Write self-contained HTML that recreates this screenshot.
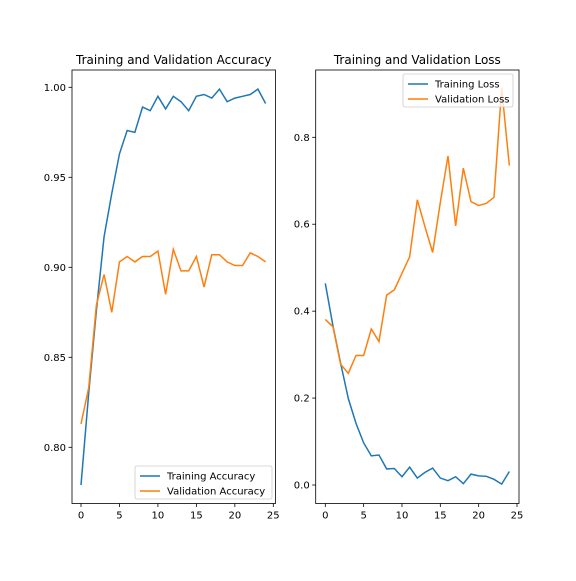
<!DOCTYPE html>
<html><head><meta charset="utf-8"><style>
body{margin:0;background:#fff;}
svg{font-family:"DejaVu Sans","Liberation Sans",sans-serif;}
</style></head><body>
<svg id="c" width="576" height="576" viewBox="0 0 576 576"></svg>
<script>
const epochs=[0,1,2,3,4,5,6,7,8,9,10,11,12,13,14,15,16,17,18,19,20,21,22,23,24];
const trainAcc=[0.779,0.83,0.876,0.917,0.941,0.963,0.976,0.975,0.989,0.987,0.995,0.988,0.995,0.992,0.987,0.995,0.996,0.994,0.999,0.992,0.994,0.995,0.996,0.999,0.991];
const valAcc=[0.813,0.833,0.879,0.896,0.875,0.903,0.906,0.903,0.906,0.906,0.909,0.885,0.910,0.898,0.898,0.906,0.889,0.907,0.907,0.903,0.901,0.901,0.908,0.906,0.903];
const trainLoss=[0.464,0.366,0.28,0.199,0.142,0.097,0.067,0.069,0.037,0.038,0.019,0.041,0.016,0.029,0.039,0.016,0.010,0.019,0.003,0.025,0.021,0.020,0.013,0.002,0.031];
const valLoss=[0.381,0.364,0.278,0.257,0.298,0.298,0.359,0.330,0.437,0.449,0.487,0.525,0.656,0.594,0.535,0.650,0.757,0.596,0.729,0.652,0.643,0.648,0.662,0.913,0.735];
const xTicks=[0,5,10,15,20,25];
const accTicks=[0.80,0.85,0.90,0.95,1.00];
const lossTicks=[0.0,0.2,0.4,0.6,0.8];
const svg=document.getElementById('c');
const NS='http://www.w3.org/2000/svg';
function mk(t,a,p){const e=document.createElementNS(NS,t);for(const k in a)e.setAttribute(k,a[k]);(p||svg).appendChild(e);return e;}
function panel(cfg){
  const g=mk('g',{});
  
  
  const X=v=>cfg.x0+(v-0)*(cfg.x25-cfg.x0)/25;
  const Y=v=>cfg.yA+(v-cfg.vA)*(cfg.yB-cfg.yA)/(cfg.vB-cfg.vA);
  xTicks.forEach(t=>{
    const l=mk('line',{x1:X(t),x2:X(t),y1:cfg.b,y2:cfg.b+3.5,stroke:'#000','stroke-width':0.8},g);
    
    const tx=mk('text',{x:X(t),y:cfg.b+15,'font-size':10,'text-anchor':'middle',fill:'#000'},g);
    tx.textContent=t;
  });
  cfg.yt.forEach(t=>{
    const l=mk('line',{x1:cfg.l-3.5,x2:cfg.l,y1:Y(t),y2:Y(t),stroke:'#000','stroke-width':0.8},g);
    
    const tx=mk('text',{x:cfg.l-6,y:Y(t)+3.5,'font-size':10,'text-anchor':'end',fill:'#000'},g);
    tx.textContent=t.toFixed(cfg.dec);
  });
  cfg.series.forEach(s=>{
    const p=mk('polyline',{points:epochs.map((e,i)=>X(e)+','+Y(s.d[i])).join(' '),fill:'none',stroke:s.c,'stroke-width':1.5},g);
    
  });
  const r=mk('rect',{x:cfg.l,y:cfg.t,width:cfg.r-cfg.l,height:cfg.b-cfg.t,fill:'none',stroke:'#000','stroke-width':0.8},g);
  
  const ti=mk('text',{x:(cfg.l+cfg.r)/2,y:cfg.t-6,'font-size':12,'text-anchor':'middle',fill:'#000'},g);
  ti.textContent=cfg.title;
  const lg=mk('g',{},g);
  
  mk('rect',{x:cfg.lg[0],y:cfg.lg[1],width:cfg.lg[2],height:33,rx:2,fill:'#fff','fill-opacity':0.8,stroke:'#ccc','stroke-width':0.8},lg);
  cfg.series.forEach((s,i)=>{
    const yy=cfg.lg[1]+10+i*15;
    mk('line',{x1:cfg.lg[0]+5,x2:cfg.lg[0]+25,y1:yy,y2:yy,stroke:s.c,'stroke-width':1.5},lg);
    const e=mk('text',{x:cfg.lg[0]+32,y:yy+3.5,'font-size':10,fill:'#000'},lg);
    e.textContent=s.label;
  });
}
panel({name:'accuracy-chart',title:'Training and Validation Accuracy',l:72,r:275.5,t:70,b:503.5,x0:81,x25:273.3,yA:87.3,vA:1.0,yB:447.3,vB:0.8,yt:accTicks,dec:2,lg:[135,466,137],
  series:[{d:trainAcc,c:'#1f77b4',n:'training-accuracy-line',label:'Training Accuracy'},{d:valAcc,c:'#ff7f0e',n:'validation-accuracy-line',label:'Validation Accuracy'}]});
panel({name:'loss-chart',title:'Training and Validation Loss',l:315.7,r:519,t:70,b:503.5,x0:325.3,x25:517,yA:485,vA:0,yB:137.3,vB:0.8,yt:lossTicks,dec:1,lg:[403,74,110],
  series:[{d:trainLoss,c:'#1f77b4',n:'training-loss-line',label:'Training Loss'},{d:valLoss,c:'#ff7f0e',n:'validation-loss-line',label:'Validation Loss'}]});
</script>
</body></html>
